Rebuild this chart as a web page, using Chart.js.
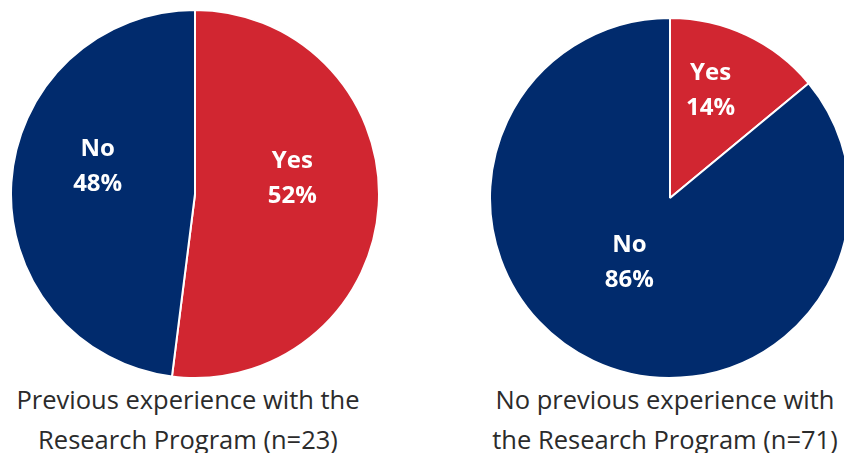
<!DOCTYPE html>
<html>
<head>
<meta charset="utf-8">
<script src="https://cdn.jsdelivr.net/npm/chart.js@4"></script>
<style>
    html, body { margin: 0; padding: 0; background: #fff; overflow: hidden; }
    body { width: 844px; height: 453px; position: relative; font-family: "Open Sans", sans-serif; }
    .pie { position: absolute; }
    #pie-left { left: 10px; top: 9px; width: 370px; height: 370px; }
    #pie-right { left: 489px; top: 17px; width: 362px; height: 362px; }
    .caption {
        position: absolute; text-align: center; color: #2b2b2b;
        font-size: 25.5px; line-height: 40px; white-space: nowrap;
    }
    #cap-left { left: 0px; width: 376px; top: 379px; }
    #cap-right { left: 480px; width: 370px; top: 379px; }
</style>
</head>
<body>
<div class="pie" id="pie-left"><canvas id="chart-left"></canvas></div>
<div class="pie" id="pie-right"><canvas id="chart-right"></canvas></div>
<div class="caption" id="cap-left">Previous experience with the<br>Research Program (n=23)</div>
<div class="caption" id="cap-right">No previous experience with<br>the Research Program (n=71)</div>
<script>
const categories = ["Yes", "No"];
const prevExperience = [52, 48];
const noPrevExperience = [14, 86];
const sliceColors = ["#D12631", "#012B6D"];

// Labels inside slices: name on first line, percent below
const sliceLabels = {
    id: "sliceLabels",
    afterDatasetsDraw(chart) {
        const ctx = chart.ctx;
        const meta = chart.getDatasetMeta(0);
        const values = chart.data.datasets[0].data;
        ctx.save();
        ctx.fillStyle = "#fff";
        ctx.font = "bold 24px 'Open Sans'";
        ctx.textAlign = "center";
        ctx.textBaseline = "middle";
        meta.data.forEach((arc, i) => {
            const p = arc.getProps(["x", "y", "startAngle", "endAngle", "outerRadius"], true);
            const mid = (p.startAngle + p.endAngle) / 2;
            const r = p.outerRadius * 0.53;
            const x = p.x + Math.cos(mid) * r;
            const y = p.y + Math.sin(mid) * r - 22;
            ctx.fillText(chart.data.labels[i], x, y - 17);
            ctx.fillText(values[i] + "%", x, y + 18);
        });
        ctx.restore();
    }
};

function makePie(id, values) {
    new Chart(document.getElementById(id), {
        type: "pie",
        data: {
            labels: categories,
            datasets: [{
                data: values,
                backgroundColor: sliceColors,
                borderColor: "#fff",
                borderWidth: 2
            }]
        },
        options: {
            responsive: true,
            maintainAspectRatio: false,
            animation: false,
            layout: { padding: 0 },
            plugins: {
                legend: { display: false },
                tooltip: { enabled: false }
            }
        },
        plugins: [sliceLabels]
    });
}

makePie("chart-left", prevExperience);
makePie("chart-right", noPrevExperience);
</script>
</body>
</html>
